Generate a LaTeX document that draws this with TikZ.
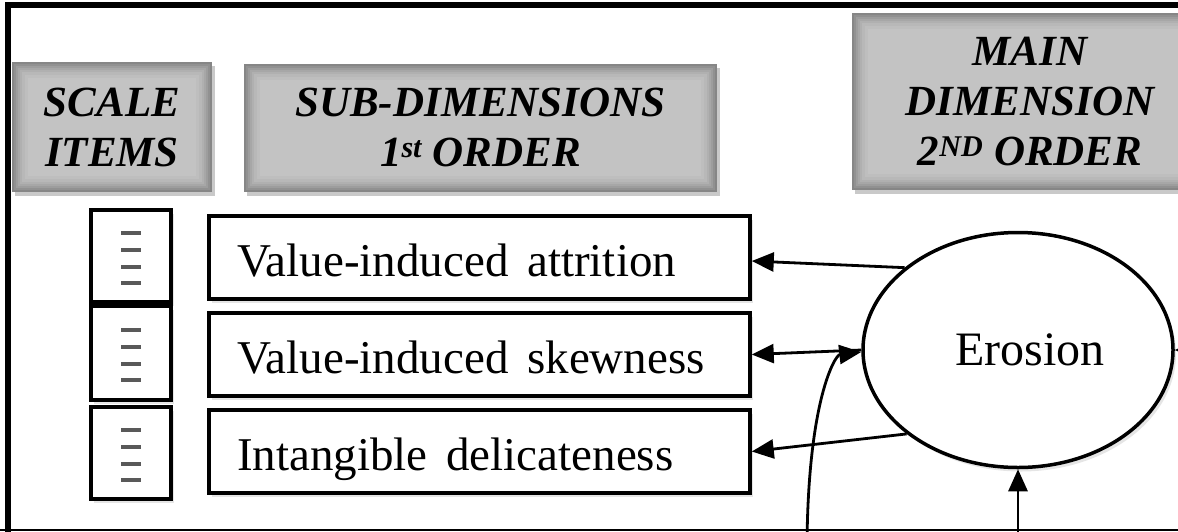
\documentclass[tikz,border=0pt]{standalone}
\usepackage{fontspec}
\setmainfont{Liberation Serif}
\usetikzlibrary{shapes.geometric,shadows,arrows.meta}

\tikzset{
  headbox/.style={rectangle, inner sep=0pt, align=center,
    font=\bfseries\itshape\fontsize{43}{50}\selectfont,
    fill=gray!95,
    drop shadow={shadow xshift=3pt, shadow yshift=-4pt, opacity=0.35, fill=black!60},
    path picture={
      \foreach \i/\c in {2/86,4/77,6/69,8/62,10/56,13/51,16/47}{
        \fill[gray!\c] ([shift={(\i,\i)}]path picture bounding box.north west)
          rectangle ([shift={(-\i,-\i)}]path picture bounding box.south east);
      }
    }},
  itembox/.style={rectangle, draw, line width=3.5pt, fill=white, inner sep=0pt,
    minimum width=80pt, minimum height=93pt,
    drop shadow={shadow xshift=3pt, shadow yshift=-4pt, opacity=0.2}},
  subbox/.style={rectangle, draw, line width=3.5pt, fill=white, inner xsep=28pt,
    inner ysep=0pt, text width=485pt, align=left, minimum height=83pt,
    text height=38pt, text depth=1pt,
    font=\fontsize{47}{50}\selectfont,
    drop shadow={shadow xshift=3pt, shadow yshift=-4pt, opacity=0.2}},
  latent/.style={ellipse, draw, line width=3.5pt, fill=white, inner sep=0pt,
    minimum width=310pt, minimum height=235pt,
    drop shadow={shadow xshift=3pt, shadow yshift=-4pt, opacity=0.2}},
  link/.style={line width=2.8pt, -{Triangle[length=22pt,width=19pt]}},
  tick/.style={line width=3.8pt, black!65}
}

\begin{document}
\begin{tikzpicture}[x=1pt, y=-1pt]
\useasboundingbox (0,0) rectangle (1178,531);
\fill[white] (0,0) rectangle (1178,531);

% frame of the figure
\draw[line width=5.5pt] (8,540) -- (8,5) -- (1200,5);
\draw[line width=2pt] (0,530) -- (1178,530);

% column headings
\node[headbox, minimum width=200pt, minimum height=130pt] (hscale) at (112,127)
  {SCALE\\ITEMS};
\node[headbox, minimum width=473pt, minimum height=128pt] (hsub) at (480.5,127.5)
  {SUB-DIMENSIONS\\1\textsuperscript{st} ORDER};
\node[headbox, minimum width=356pt, minimum height=177pt] (hmain) at (1030,101.5)
  {MAIN\\DIMENSION\\2\textsuperscript{ND} ORDER};

% scale item boxes
\node[itembox, minimum height=92pt] (it1) at (131,256) {};
\node[itembox, minimum height=94pt] (it2) at (131,353) {};
\node[itembox, minimum height=92pt] (it3) at (131,453) {};
\foreach \n in {it1,it2,it3}{
  \foreach \k in {-23,-6,11,27}{
    \draw[tick] ([shift={(-10,\k)}]\n.center) -- ([shift={(10,\k)}]\n.center);
  }
}

% first-order sub-dimensions
\node[subbox] (s1) at (479.5,257.5) {Value-induced\hspace{0.4em}attrition};
\node[subbox] (s2) at (479.5,354.5) {Value-induced\hspace{0.4em}skewness};
\node[subbox] (s3) at (479.5,451.5) {Intangible\hspace{0.4em}delicateness};

% second-order dimension
\node[latent] (erosion) at (1018,350) {};
\node[font=\fontsize{48}{50}\selectfont, inner sep=0pt] (erosionlbl) at (1030,350) {Erosion};

% loadings
\draw[link] (erosion.144) -- ([shift={(0,3.5)}]s1.east);
\draw[link] (erosion.west) -- (s2.east);
\draw[link] (erosion.217) -- (s3.east);

% incoming paths from below and the right
\coordinate (fromleft) at (807,545);
\coordinate (frombelow) at (1018,545);
\coordinate (fromright) at (1235,350);
\draw[link] (fromleft) .. controls (808,400) and (835,355) .. ([shift={(0,2)}]erosion.west);
\draw[link] (frombelow) -- (erosion.south);
\draw[link] (fromright) -- (erosion.east);
\end{tikzpicture}
\end{document}
